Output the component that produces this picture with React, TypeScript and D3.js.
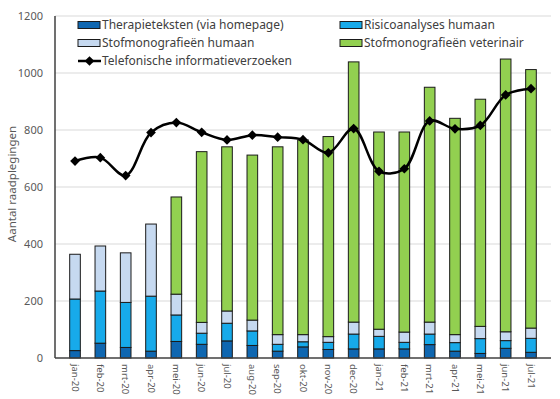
import React, { useEffect, useRef } from 'react';
import * as d3 from 'd3';

const months = [
  'jan-20', 'feb-20', 'mrt-20', 'apr-20', 'mei-20', 'jun-20', 'jul-20', 'aug-20', 'sep-20', 'okt-20',
  'nov-20', 'dec-20', 'jan-21', 'feb-21', 'mrt-21', 'apr-21', 'mei-21', 'jun-21', 'jul-21',
];
const therapieteksten = [26, 52, 37, 24, 58, 48, 60, 44, 24, 39, 30, 32, 32, 32, 47, 24, 16, 34, 20];
const risicoHumaan = [181, 183, 158, 193, 93, 39, 62, 51, 24, 18, 25, 52, 44, 23, 37, 30, 52, 27, 49];
const stofHumaan = [157, 158, 174, 253, 73, 38, 43, 38, 34, 25, 20, 42, 25, 36, 42, 28, 43, 31, 36];
const stofVeterinair = [0, 0, 0, 0, 341, 599, 576, 579, 659, 683, 702, 913, 692, 702, 824, 759, 797, 957, 907];
const telefonisch = [691, 703, 640, 791, 826, 792, 765, 782, 775, 766, 720, 805, 655, 664, 832, 804, 816, 923, 945];
const yTicks = [0, 200, 400, 600, 800, 1000, 1200];

const seriesKeys = ['Therapieteksten (via homepage)', 'Risicoanalyses humaan', 'Stofmonografieën humaan', 'Stofmonografieën veterinair'];
const seriesColors = ['#0f67b1', '#17aaea', '#c6d9f0', '#92d050'];

const FONT = '"Noto Sans", "Open Sans", sans-serif';

const App: React.FC = () => {
  const svgRef = useRef<SVGSVGElement>(null);

  useEffect(() => {
    const svg = d3.select(svgRef.current);
    svg.selectAll('*').remove();

    const width = 560;
    const height = 399;
    const margin = { top: 16, right: 9, bottom: 41, left: 55 };
    const plotW = width - margin.left - margin.right;
    const plotH = height - margin.top - margin.bottom;

    svg.attr('width', width).attr('height', height).style('background', '#fff');

    const g = svg.append('g').attr('transform', `translate(${margin.left},${margin.top})`);

    const x = d3.scaleBand<string>().domain(months).range([0, plotW]).padding(0.58);
    const y = d3.scaleLinear().domain([0, 1200]).range([plotH, 0]);

    // gridlines
    g.selectAll('.grid')
      .data(yTicks.filter(t => t > 0))
      .enter()
      .append('line')
      .attr('x1', 0)
      .attr('x2', plotW)
      .attr('y1', d => y(d))
      .attr('y2', d => y(d))
      .attr('stroke', '#d9d9d9')
      .attr('stroke-width', 1);

    // y tick labels
    g.selectAll('.ytick')
      .data(yTicks)
      .enter()
      .append('text')
      .attr('x', -12)
      .attr('y', d => y(d))
      .attr('dy', '0.35em')
      .attr('text-anchor', 'end')
      .style('font-family', FONT)
      .style('font-size', '11px')
      .style('fill', '#595959')
      .text(d => d);

    // stacked bars
    const rows = months.map((m, i) => ({
      month: m,
      [seriesKeys[0]]: therapieteksten[i],
      [seriesKeys[1]]: risicoHumaan[i],
      [seriesKeys[2]]: stofHumaan[i],
      [seriesKeys[3]]: stofVeterinair[i],
    })) as any[];
    const stacked = d3.stack<any>().keys(seriesKeys)(rows);

    stacked.forEach((layer, li) => {
      g.selectAll(`.bar-${li}`)
        .data(layer.filter(d => d[1] - d[0] > 0))
        .enter()
        .append('rect')
        .attr('x', d => x(d.data.month) as number)
        .attr('y', d => y(d[1]))
        .attr('width', x.bandwidth())
        .attr('height', d => y(d[0]) - y(d[1]))
        .attr('fill', seriesColors[li])
        .attr('stroke', '#1a1a1a')
        .attr('stroke-width', 1);
    });

    // axes lines
    g.append('line')
      .attr('x1', 0).attr('x2', plotW)
      .attr('y1', plotH).attr('y2', plotH)
      .attr('stroke', '#404040').attr('stroke-width', 1.5);
    g.append('line')
      .attr('x1', 0).attr('x2', 0)
      .attr('y1', 0).attr('y2', plotH)
      .attr('stroke', '#404040').attr('stroke-width', 1.5);

    // x tick labels (rotated)
    g.selectAll('.xtick')
      .data(months)
      .enter()
      .append('text')
      .attr('transform', d => `translate(${(x(d) as number) + x.bandwidth() / 2},${plotH + 6}) rotate(90)`)
      .attr('dy', '0.35em')
      .attr('text-anchor', 'start')
      .style('font-family', FONT)
      .style('font-size', '9.5px')
      .style('fill', '#595959')
      .text(d => d);

    // telephone line
    const line = d3.line<number>()
      .x((_, i) => (x(months[i]) as number) + x.bandwidth() / 2)
      .y(d => y(d))
      .curve(d3.curveCatmullRom.alpha(0.5));

    g.append('path')
      .datum(telefonisch)
      .attr('fill', 'none')
      .attr('stroke', '#000')
      .attr('stroke-width', 2.5)
      .attr('d', line);

    const diamond = d3.symbol().type(d3.symbolDiamond2).size(60);
    g.selectAll('.marker')
      .data(telefonisch)
      .enter()
      .append('path')
      .attr('d', diamond)
      .attr('transform', (d, i) => `translate(${(x(months[i]) as number) + x.bandwidth() / 2},${y(d)})`)
      .attr('fill', '#000');

    // legend
    const legendItems = [
      { label: seriesKeys[0], color: seriesColors[0], lx: 78, ly: 25 },
      { label: seriesKeys[1], color: seriesColors[1], lx: 340, ly: 25 },
      { label: seriesKeys[2], color: seriesColors[2], lx: 78, ly: 43 },
      { label: seriesKeys[3], color: seriesColors[3], lx: 340, ly: 43 },
    ];
    const legend = svg.append('g');
    legendItems.forEach(item => {
      legend.append('rect')
        .attr('x', item.lx)
        .attr('y', item.ly - 3.5)
        .attr('width', 22)
        .attr('height', 7)
        .attr('fill', item.color)
        .attr('stroke', '#1a1a1a')
        .attr('stroke-width', 1);
      legend.append('text')
        .attr('x', item.lx + 24)
        .attr('y', item.ly)
        .attr('dy', '0.35em')
        .style('font-family', FONT)
        .style('font-size', '12px')
        .style('fill', '#404040')
        .text(item.label);
    });
    legend.append('line')
      .attr('x1', 78).attr('x2', 101)
      .attr('y1', 61).attr('y2', 61)
      .attr('stroke', '#000').attr('stroke-width', 2.5);
    legend.append('path')
      .attr('d', diamond)
      .attr('transform', 'translate(89.5,61)')
      .attr('fill', '#000');
    legend.append('text')
      .attr('x', 102)
      .attr('y', 61)
      .attr('dy', '0.35em')
      .style('font-family', FONT)
      .style('font-size', '12px')
      .style('fill', '#404040')
      .text('Telefonische informatieverzoeken');

    // y axis title
    svg.append('text')
      .attr('transform', `translate(12,${margin.top + plotH / 2 - 3}) rotate(-90)`)
      .attr('text-anchor', 'middle')
      .attr('dy', '0.35em')
      .style('font-family', FONT)
      .style('font-size', '11.5px')
      .style('fill', '#595959')
      .text('Aantal raadplegingen');
  }, []);

  return (
    <div style={{ position: 'absolute', left: 0, top: 0 }}>
      <svg ref={svgRef}></svg>
    </div>
  );
};

export default App;
